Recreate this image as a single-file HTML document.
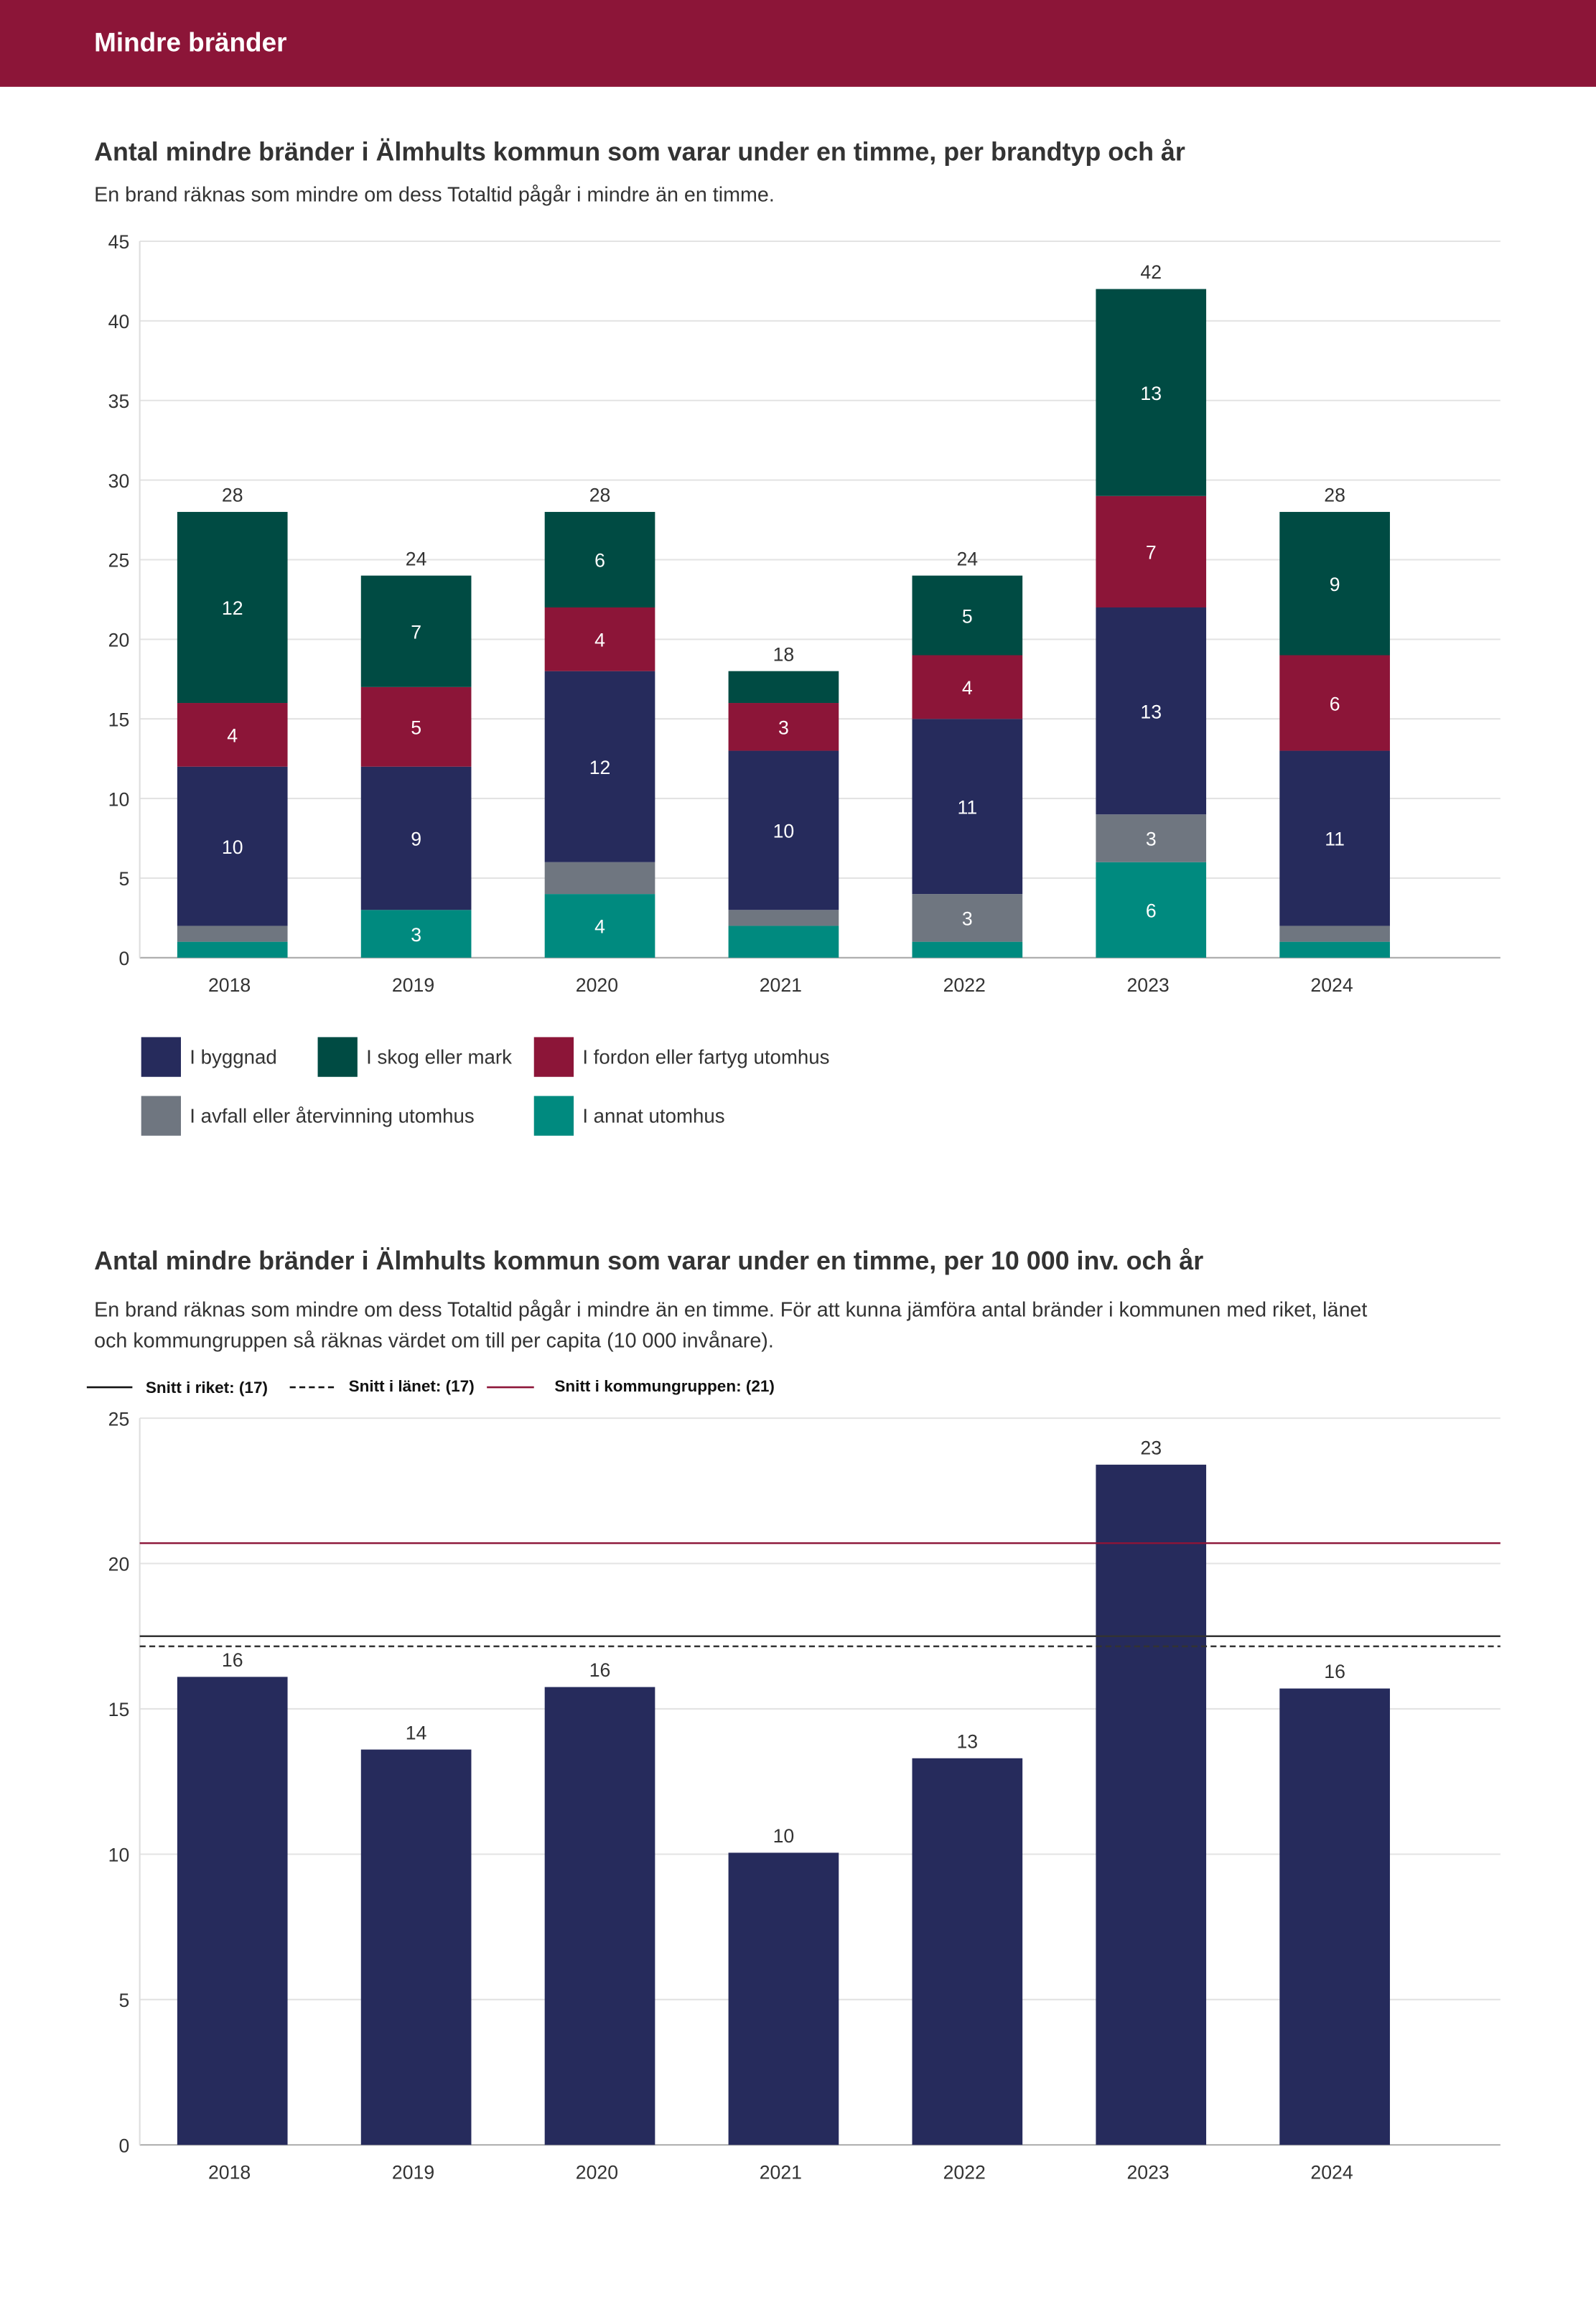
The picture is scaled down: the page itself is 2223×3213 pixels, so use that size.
<!DOCTYPE html>
<html><head><meta charset="utf-8">
<style>
html,body{margin:0;padding:0;background:#fff}
svg{display:block;font-family:"Liberation Sans",sans-serif}
</style></head>
<body>
<svg id="s" width="2223" height="3213" viewBox="0 0 1085 1568.2" preserveAspectRatio="none" xmlns="http://www.w3.org/2000/svg">
<rect x="0" y="0" width="1085" height="59" fill="#8c1538"/>
<text x="64" y="35" fill="#fff" font-size="18" font-weight="bold">Mindre bränder</text>
<text x="64" y="109" fill="#333" font-size="17.5" font-weight="bold">Antal mindre bränder i Älmhults kommun som varar under en timme, per brandtyp och år</text>
<text x="64" y="137" fill="#333" font-size="14">En brand räknas som mindre om dess Totaltid pågår i mindre än en timme.</text>
<g id="c1"></g>
<g id="leg1"></g>
<text x="64" y="863" fill="#333" font-size="17.5" font-weight="bold">Antal mindre bränder i Älmhults kommun som varar under en timme, per 10 000 inv. och år</text>
<text x="64" y="895" fill="#333" font-size="14">En brand räknas som mindre om dess Totaltid pågår i mindre än en timme. För att kunna jämföra antal bränder i kommunen med riket, länet</text>
<text x="64" y="916" fill="#333" font-size="14">och kommungruppen så räknas värdet om till per capita (10 000 invånare).</text>
<g>
<line x1="59" y1="943" x2="90" y2="943" stroke="#111" stroke-width="1.3"/>
<text x="99" y="947" font-size="11" font-weight="bold" fill="#111">Snitt i riket: (17)</text>
<line x1="197" y1="943" x2="228" y2="943" stroke="#111" stroke-width="1.3" stroke-dasharray="4,2.5"/>
<text x="237" y="946" font-size="11" font-weight="bold" fill="#111">Snitt i länet: (17)</text>
<line x1="331" y1="943" x2="363" y2="943" stroke="#8c1538" stroke-width="1.3"/>
<text x="377" y="946" font-size="11" font-weight="bold" fill="#111">Snitt i kommungruppen: (21)</text>
</g>
<g id="c2"></g>
</svg>
<script>
const years=["2018","2019","2020","2021","2022","2023","2024"];
const annat=[1,3,4,2,1,6,1];
const avfall=[1,0,2,1,3,3,1];
const byggnad=[10,9,12,10,11,13,11];
const fordon=[4,5,4,3,4,7,6];
const skog=[12,7,6,2,5,13,9];
const ticks1=[0,5,10,15,20,25,30,35,40,45];
const perCapita=[16.1,13.6,15.75,10.05,13.3,23.4,15.7];
const ticks2=[0,5,10,15,20,25];
const riket=17.5, lanet=17.15, kommungrupp=20.7;

const NS="http://www.w3.org/2000/svg";
function mk(p,t,a){const e=document.createElementNS(NS,t);for(const k in a)e.setAttribute(k,a[k]);p.appendChild(e);return e;}
const X0=95,X1=1020,bw=75;
function xc(i){return 158+i*124.9;}

// chart 1
const c1=document.getElementById('c1');
const y1=v=>651-v*(487/45);
ticks1.forEach(t=>{
 const l=mk(c1,'line',{x1:X0,x2:X1,y1:y1(t),y2:y1(t),stroke:t?'#e3e3e3':'#aaa','stroke-width':1});
 
 
 const tx=mk(c1,'text',{x:88,y:y1(t)+5,'text-anchor':'end','font-size':13,fill:'#333'});tx.textContent=t;
 
 
});
const ax=mk(c1,'line',{x1:X0,x2:X0,y1:164,y2:651,stroke:'#ddd'});


const series=[[annat,'#008a7f','annat'],[avfall,'#6f7680','avfall'],[byggnad,'#262b5c','byggnad'],[fordon,'#8c1538','fordon'],[skog,'#004b43','skog']];
years.forEach((yr,i)=>{
 let acc=0;
 series.forEach(([arr,col,nm])=>{
  const v=arr[i]; if(!v)return;
  const r=mk(c1,'rect',{x:xc(i)-bw/2,y:y1(acc+v),width:bw,height:y1(acc)-y1(acc+v),fill:col});
  
  
  if(v>=3){const t=mk(c1,'text',{x:xc(i),y:(y1(acc)+y1(acc+v))/2+5,'text-anchor':'middle','font-size':13,fill:'#fff'});t.textContent=v;
   
   }
  acc+=v;
 });
 const tt=mk(c1,'text',{x:xc(i),y:y1(acc)-7,'text-anchor':'middle','font-size':13,fill:'#333'});tt.textContent=acc;
 
 
 const xl=mk(c1,'text',{x:xc(i)-2,y:674,'text-anchor':'middle','font-size':13,fill:'#333'});xl.textContent=yr;
 
 
});
// legend 1
const leg=document.getElementById('leg1');
[['I byggnad','#262b5c',96,705],['I skog eller mark','#004b43',216,705],['I fordon eller fartyg utomhus','#8c1538',363,705],['I avfall eller återvinning utomhus','#6f7680',96,745],['I annat utomhus','#008a7f',363,745]].forEach(([lab,col,x,y])=>{
 const r=mk(leg,'rect',{x:x,y:y,width:27,height:27,fill:col});
 
 
 const t=mk(leg,'text',{x:x+33,y:y+18,'font-size':13.5,fill:'#333'});t.textContent=lab;
 
 
});

// chart 2
const c2=document.getElementById('c2');
const y2=v=>1458-v*(494/25);
ticks2.forEach(t=>{
 const l=mk(c2,'line',{x1:X0,x2:X1,y1:y2(t),y2:y2(t),stroke:t?'#e3e3e3':'#aaa','stroke-width':1});
 
 
 const tx=mk(c2,'text',{x:88,y:y2(t)+5,'text-anchor':'end','font-size':13,fill:'#333'});tx.textContent=t;
 
 
});
const ax2=mk(c2,'line',{x1:X0,x2:X0,y1:964,y2:1458,stroke:'#ddd'});


years.forEach((yr,i)=>{
 const v=perCapita[i];
 const r=mk(c2,'rect',{x:xc(i)-bw/2,y:y2(v),width:bw,height:y2(0)-y2(v),fill:'#262b5c'});
 
 
 const t=mk(c2,'text',{x:xc(i),y:y2(v)-7,'text-anchor':'middle','font-size':13,fill:'#333'});t.textContent=Math.round(v);
 
 
 const xl=mk(c2,'text',{x:xc(i)-2,y:1481,'text-anchor':'middle','font-size':13,fill:'#333'});xl.textContent=yr;
 
 
});
const lr=mk(c2,'line',{x1:X0,x2:X1,y1:y2(riket),y2:y2(riket),stroke:'#333','stroke-width':1.2});


const ll=mk(c2,'line',{x1:X0,x2:X1,y1:y2(lanet),y2:y2(lanet),stroke:'#333','stroke-width':1.2,'stroke-dasharray':'4,2.5'});


const lk=mk(c2,'line',{x1:X0,x2:X1,y1:y2(kommungrupp),y2:y2(kommungrupp),stroke:'#8c1538','stroke-width':1.2});


</script>
</body></html>
